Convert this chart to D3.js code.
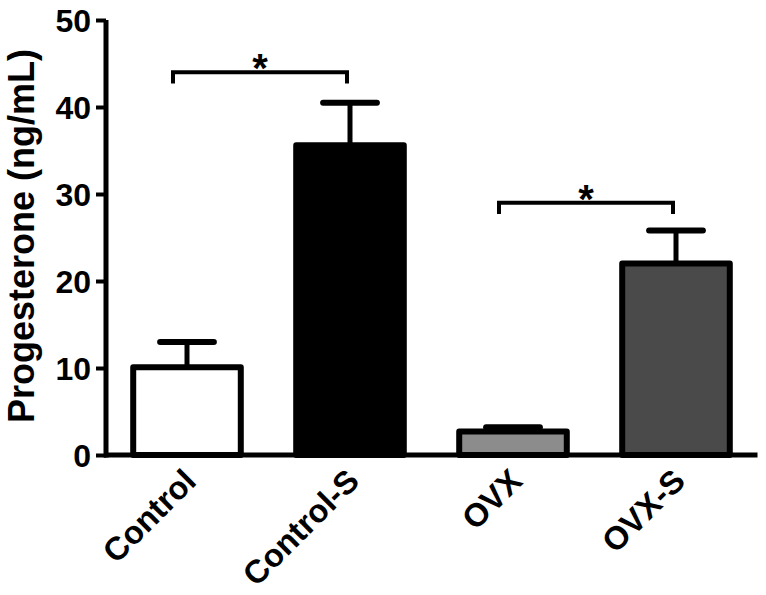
<!DOCTYPE html>
<html>
<head>
<meta charset="utf-8">
<script src="https://cdn.jsdelivr.net/npm/d3@7"></script>
<style>
  body { margin: 0; background: #fff; }
  svg { display: block; }
  text { font-family: "Liberation Sans", Arial, sans-serif; font-weight: bold; fill: #000; }
</style>
</head>
<body>
<svg id="chart" width="766" height="595"></svg>
<script>
const categories = ["Control", "Control-S", "OVX", "OVX-S"];
const means = [10.1, 35.6, 2.7, 22.0];
const errors = [2.9, 4.9, 0.5, 3.8];
const fills = ["#ffffff", "#000000", "#8c8c8c", "#4a4a4a"];
const yTicks = [0, 10, 20, 30, 40, 50];
const brackets = [
  { from: "Control", to: "Control-S", level: 44.0, label: "*" },
  { from: "OVX", to: "OVX-S", level: 29.0, label: "*" }
];

const svg = d3.select("#chart");

const x = d3.scaleBand()
  .domain(categories)
  .range([105.5, 757.5])
  .paddingInner(0.34)
  .paddingOuter(0.17);

const y = d3.scaleLinear().domain([0, 50]).range([455, 20]);

// Bars
svg.append("g").selectAll("rect")
  .data(categories)
  .join("rect")
  .attr("x", d => x(d))
  .attr("y", (d, i) => y(means[i]))
  .attr("width", x.bandwidth())
  .attr("height", (d, i) => y(0) - y(means[i]))
  .attr("fill", (d, i) => fills[i])
  .attr("stroke", "#000")
  .attr("stroke-width", 6)
  .attr("stroke-linejoin", "round");

// Error bars
const eg = svg.append("g");
categories.forEach((c, i) => {
  const cx = x(c) + x.bandwidth() / 2;
  const top = y(means[i] + errors[i]);
  eg.append("line")
    .attr("x1", cx).attr("x2", cx)
    .attr("y1", y(means[i])).attr("y2", top)
    .attr("stroke", "#000").attr("stroke-width", 5);
  eg.append("line")
    .attr("x1", cx - x.bandwidth() * 0.25).attr("x2", cx + x.bandwidth() * 0.25)
    .attr("y1", top).attr("y2", top)
    .attr("stroke", "#000").attr("stroke-width", 6)
    .attr("stroke-linecap", "round");
});

// Y axis
const yAxis = d3.axisLeft(y).tickValues(yTicks).tickSize(10).tickPadding(5);
const ya = svg.append("g").attr("transform", "translate(106,0)").call(yAxis);
ya.select(".domain").attr("stroke", "#000").attr("stroke-width", 5).attr("d", `M0,${y(50)}V${y(0) + 2.5}`);
ya.selectAll(".tick line").attr("stroke", "#000").attr("stroke-width", 4);
ya.selectAll(".tick text")
  .style("font-size", "32px")
  .attr("dy", "0.36em");

// X axis line
svg.append("line")
  .attr("x1", 104).attr("x2", 757.5)
  .attr("y1", y(0)).attr("y2", y(0))
  .attr("stroke", "#000").attr("stroke-width", 5);

// X labels
svg.append("g").selectAll("text")
  .data(categories)
  .join("text")
  .attr("transform", d => `translate(${x(d) + x.bandwidth() / 2 + 11},${y(0) + 28}) rotate(-45)`)
  .attr("text-anchor", "end")
  .style("font-size", "32.5px")
  .text(d => d);

// Y label
svg.append("text")
  .attr("transform", `translate(34,236) rotate(-90)`)
  .attr("text-anchor", "middle")
  .style("font-size", "36px")
  .text("Progesterone (ng/mL)");

// Significance brackets
const bg = svg.append("g");
brackets.forEach(b => {
  const x1 = x(b.from) + x.bandwidth() / 2 - 14;
  const x2 = x(b.to) + x.bandwidth() / 2 - 3;
  const yl = y(b.level);
  const drop = y(b.level - 1.3);
  bg.append("path")
    .attr("d", `M${x1},${drop}V${yl}H${x2}V${drop}`)
    .attr("fill", "none").attr("stroke", "#000").attr("stroke-width", 4);
  bg.append("text")
    .attr("x", (x1 + x2) / 2).attr("y", yl + 10)
    .attr("text-anchor", "middle")
    .style("font-size", "40px")
    .text(b.label);
});
</script>
</body>
</html>
